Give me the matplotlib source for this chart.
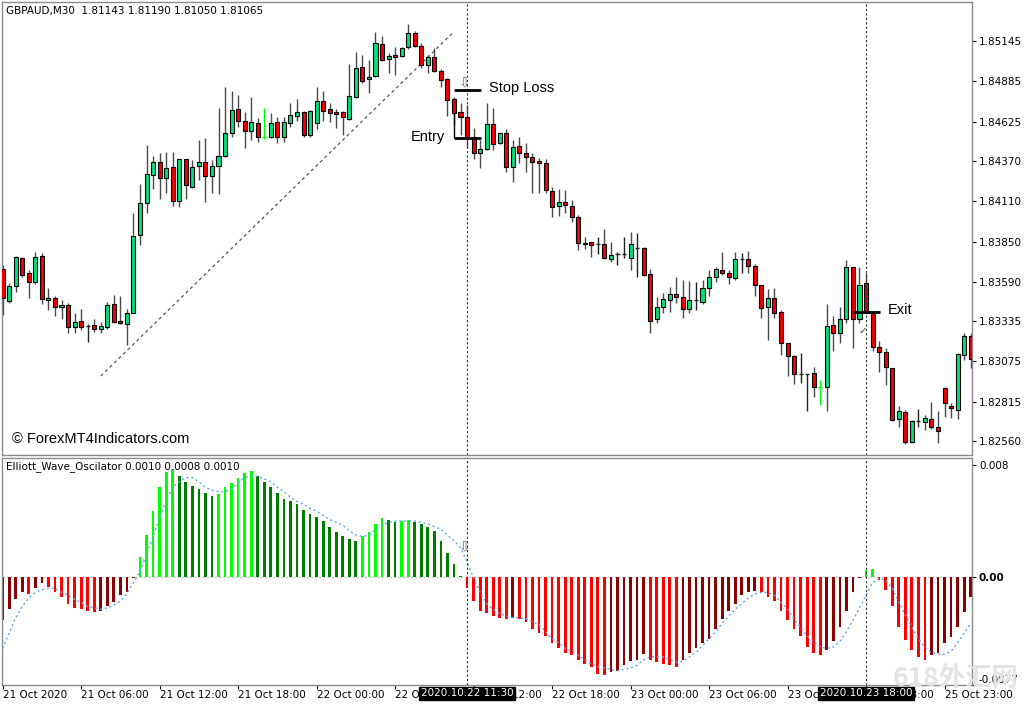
import matplotlib
matplotlib.use("Agg")
import matplotlib.pyplot as plt

# GBPAUD M30 candles, 21 Oct 2020 00:00 .. 25 Oct 2020
opens = [1.83672, 1.83466, 1.83562, 1.83743, 1.83646, 1.83588, 1.83756, 1.83472, 1.83485, 1.83427,
         1.83440, 1.83298, 1.83336, 1.83304, 1.83311, 1.83285, 1.83298, 1.83446, 1.83336, 1.83317,
         1.83388, 1.83892, 1.84099, 1.84280, 1.84363, 1.84260, 1.84331, 1.84112, 1.84383, 1.84202,
         1.84338, 1.84363, 1.84273, 1.84338, 1.84402, 1.84551, 1.84706, 1.84628, 1.84564, 1.84615,
         1.84525, 1.84525, 1.84622, 1.84525, 1.84615, 1.84661, 1.84686, 1.84538, 1.84615, 1.84758,
         1.84706, 1.84686, 1.84686, 1.84641, 1.84783, 1.84977, 1.84900, 1.84919, 1.85126, 1.85029,
         1.85055, 1.85048, 1.85106, 1.85197, 1.85113, 1.84990, 1.85042, 1.84951, 1.84900, 1.84770,
         1.84686, 1.84654, 1.84525, 1.84422, 1.84447, 1.84609, 1.84486, 1.84551, 1.84331, 1.84467,
         1.84422, 1.84396, 1.84370, 1.84357, 1.84176, 1.84079, 1.84105, 1.84079, 1.84008, 1.83834,
         1.83847, 1.83834, 1.83834, 1.83737, 1.83769, 1.83769, 1.83743, 1.83808, 1.83808, 1.83640,
         1.83349, 1.83427, 1.83472, 1.83511, 1.83491, 1.83414, 1.83472, 1.83459, 1.83550, 1.83621,
         1.83666, 1.83646, 1.83614, 1.83737, 1.83737, 1.83692, 1.83569, 1.83427, 1.83485, 1.83394,
         1.83194, 1.83112, 1.82994, 1.82994, 1.83000, 1.82910, 1.82910, 1.83311, 1.83259, 1.83349,
         1.83685, 1.83349, 1.83582, 1.83388, 1.83168, 1.83136, 1.83033, 1.82703, 1.82748, 1.82555,
         1.82690, 1.82684, 1.82703, 1.82652, 1.82904, 1.82787, 1.82761, 1.83117, 1.83239]
highs = [1.83698, 1.83582, 1.83755, 1.83750, 1.83666, 1.83782, 1.83776, 1.83550, 1.83498, 1.83472,
         1.83453, 1.83388, 1.83414, 1.83317, 1.83349, 1.83330, 1.83459, 1.83504, 1.83498, 1.83414,
         1.84034, 1.84221, 1.84473, 1.84402, 1.84422, 1.84428, 1.84428, 1.84386, 1.84386, 1.84376,
         1.84506, 1.84519, 1.84376, 1.84712, 1.84848, 1.84822, 1.84796, 1.84686, 1.84783, 1.84648,
         1.84712, 1.84680, 1.84654, 1.84654, 1.84745, 1.84770, 1.84690, 1.84699, 1.84848, 1.84822,
         1.84745, 1.84706, 1.84690, 1.84997, 1.85074, 1.85055, 1.85022, 1.85203, 1.85177, 1.85068,
         1.85106, 1.85106, 1.85255, 1.85210, 1.85132, 1.85055, 1.85100, 1.84964, 1.84903, 1.84783,
         1.84745, 1.84732, 1.84583, 1.84506, 1.84745, 1.84712, 1.84557, 1.84577, 1.84506, 1.84525,
         1.84486, 1.84422, 1.84389, 1.84383, 1.84202, 1.84189, 1.84183, 1.84118, 1.84021, 1.83879,
         1.83850, 1.83879, 1.83931, 1.83847, 1.83782, 1.83879, 1.83911, 1.83905, 1.83814, 1.83672,
         1.83491, 1.83517, 1.83556, 1.83621, 1.83601, 1.83595, 1.83588, 1.83601, 1.83666, 1.83685,
         1.83782, 1.83666, 1.83782, 1.83776, 1.83789, 1.83705, 1.83572, 1.83543, 1.83550, 1.83407,
         1.83197, 1.83115, 1.83130, 1.82997, 1.83039, 1.82955, 1.83446, 1.83369, 1.83427, 1.83730,
         1.83688, 1.83685, 1.83646, 1.83391, 1.83207, 1.83162, 1.83036, 1.82787, 1.82761, 1.82697,
         1.82768, 1.82729, 1.82813, 1.82755, 1.82907, 1.82807, 1.83130, 1.83259, 1.83259]
lows = [1.83375, 1.83453, 1.83524, 1.83621, 1.83485, 1.83575, 1.83446, 1.83407, 1.83369, 1.83349,
        1.83259, 1.83259, 1.83278, 1.83201, 1.83265, 1.83259, 1.83285, 1.83323, 1.83317, 1.83181,
        1.83385, 1.83827, 1.84034, 1.84189, 1.84124, 1.84163, 1.84079, 1.84073, 1.84124, 1.84196,
        1.84247, 1.84105, 1.84163, 1.84157, 1.84396, 1.84525, 1.84590, 1.84454, 1.84506, 1.84493,
        1.84512, 1.84519, 1.84486, 1.84493, 1.84590, 1.84628, 1.84525, 1.84525, 1.84577, 1.84628,
        1.84622, 1.84583, 1.84538, 1.84635, 1.84777, 1.84874, 1.84809, 1.84913, 1.85016, 1.84938,
        1.84926, 1.85042, 1.85093, 1.85106, 1.84971, 1.84938, 1.84945, 1.84848, 1.84661, 1.84603,
        1.84538, 1.84460, 1.84383, 1.84325, 1.84444, 1.84441, 1.84480, 1.84299, 1.84234, 1.84357,
        1.84299, 1.84163, 1.84163, 1.84163, 1.84008, 1.84015, 1.84034, 1.83976, 1.83795, 1.83801,
        1.83750, 1.83769, 1.83737, 1.83717, 1.83698, 1.83743, 1.83666, 1.83621, 1.83627, 1.83259,
        1.83323, 1.83388, 1.83394, 1.83453, 1.83356, 1.83388, 1.83407, 1.83446, 1.83498, 1.83588,
        1.83633, 1.83575, 1.83601, 1.83646, 1.83646, 1.83498, 1.83356, 1.83214, 1.83356, 1.83117,
        1.82981, 1.82929, 1.82936, 1.82755, 1.82845, 1.82794, 1.82755, 1.83143, 1.83194, 1.83323,
        1.83162, 1.83323, 1.83385, 1.83143, 1.83007, 1.82923, 1.82690, 1.82652, 1.82542, 1.82548,
        1.82652, 1.82632, 1.82639, 1.82548, 1.82716, 1.82710, 1.82703, 1.83084, 1.83033]
closes = [1.83485, 1.83562, 1.83750, 1.83633, 1.83588, 1.83750, 1.83478, 1.83485, 1.83427, 1.83440,
          1.83298, 1.83330, 1.83298, 1.83304, 1.83285, 1.83304, 1.83440, 1.83330, 1.83323, 1.83388,
          1.83885, 1.84099, 1.84286, 1.84363, 1.84260, 1.84325, 1.84112, 1.84383, 1.84215, 1.84331,
          1.84363, 1.84273, 1.84338, 1.84402, 1.84551, 1.84699, 1.84628, 1.84564, 1.84622, 1.84525,
          1.84525, 1.84615, 1.84525, 1.84622, 1.84667, 1.84686, 1.84538, 1.84693, 1.84758, 1.84693,
          1.84680, 1.84674, 1.84654, 1.84790, 1.84971, 1.84887, 1.84913, 1.85132, 1.85022, 1.85048,
          1.85042, 1.85100, 1.85197, 1.85113, 1.84990, 1.85042, 1.84951, 1.84893, 1.84764, 1.84680,
          1.84654, 1.84525, 1.84422, 1.84447, 1.84609, 1.84480, 1.84551, 1.84331, 1.84460, 1.84422,
          1.84396, 1.84363, 1.84357, 1.84183, 1.84073, 1.84105, 1.84086, 1.84008, 1.83840, 1.83840,
          1.83827, 1.83834, 1.83743, 1.83763, 1.83769, 1.83769, 1.83834, 1.83808, 1.83633, 1.83336,
          1.83427, 1.83478, 1.83511, 1.83491, 1.83414, 1.83472, 1.83472, 1.83550, 1.83621, 1.83672,
          1.83646, 1.83621, 1.83737, 1.83737, 1.83692, 1.83569, 1.83420, 1.83485, 1.83388, 1.83194,
          1.83112, 1.82994, 1.82994, 1.82994, 1.82910, 1.82910, 1.83304, 1.83259, 1.83349, 1.83685,
          1.83349, 1.83569, 1.83388, 1.83168, 1.83136, 1.83039, 1.82697, 1.82755, 1.82555, 1.82690,
          1.82690, 1.82710, 1.82652, 1.82626, 1.82807, 1.82774, 1.83123, 1.83239, 1.83091]
lime_dojis = [40, 125]

# Elliott wave oscillator histogram and its signal line
ewo = [-0.0031, -0.0023, -0.0016, -0.0011, -0.0012, -0.0008, -0.0004, -0.0007, -0.0011, -0.0014,
       -0.0019, -0.0022, -0.0023, -0.0024, -0.0025, -0.0024, -0.0021, -0.0018, -0.0013, -0.0011,
       -0.0001, 0.0014, 0.0030, 0.0047, 0.0064, 0.0075, 0.0077, 0.0072, 0.0068, 0.0065,
       0.0063, 0.0060, 0.0058, 0.0059, 0.0064, 0.0067, 0.0071, 0.0074, 0.0076, 0.0072,
       0.0068, 0.0064, 0.0060, 0.0056, 0.0054, 0.0052, 0.0048, 0.0045, 0.0043, 0.0040,
       0.0036, 0.0032, 0.0029, 0.0027, 0.0026, 0.0029, 0.0032, 0.0038, 0.0042, 0.0041,
       0.0039, 0.0040, 0.0041, 0.0039, 0.0038, 0.0036, 0.0033, 0.0026, 0.0017, 0.0009,
       0.0001, -0.0008, -0.0017, -0.0024, -0.0026, -0.0028, -0.0029, -0.0030, -0.0029, -0.0030,
       -0.0032, -0.0037, -0.0040, -0.0042, -0.0047, -0.0051, -0.0054, -0.0056, -0.0059, -0.0062,
       -0.0064, -0.0069, -0.0070, -0.0068, -0.0067, -0.0063, -0.0060, -0.0059, -0.0055, -0.0059,
       -0.0061, -0.0062, -0.0063, -0.0064, -0.0059, -0.0054, -0.0051, -0.0047, -0.0044, -0.0037,
       -0.0030, -0.0024, -0.0019, -0.0013, -0.0011, -0.0010, -0.0011, -0.0014, -0.0017, -0.0024,
       -0.0031, -0.0037, -0.0042, -0.0050, -0.0054, -0.0056, -0.0052, -0.0046, -0.0036, -0.0024,
       -0.0011, -0.0001, 0.0005, 0.0006, -0.0002, -0.0009, -0.0021, -0.0036, -0.0045, -0.0052,
       -0.0057, -0.0059, -0.0056, -0.0054, -0.0047, -0.0043, -0.0036, -0.0025, -0.0014]
ewo_signal = [-0.0051, -0.0040, -0.0029, -0.0021, -0.0015, -0.0011, -0.0009, -0.0008, -0.0008, -0.0011,
              -0.0013, -0.0016, -0.0018, -0.0021, -0.0022, -0.0023, -0.0022, -0.0020, -0.0017, -0.0012,
              -0.0004, 0.0004, 0.0016, 0.0029, 0.0042, 0.0055, 0.0064, 0.0068, 0.0071, 0.0071,
              0.0068, 0.0064, 0.0062, 0.0061, 0.0061, 0.0063, 0.0067, 0.0071, 0.0072, 0.0072,
              0.0070, 0.0068, 0.0064, 0.0061, 0.0057, 0.0054, 0.0052, 0.0049, 0.0047, 0.0044,
              0.0041, 0.0039, 0.0037, 0.0033, 0.0030, 0.0029, 0.0030, 0.0034, 0.0037, 0.0039,
              0.0040, 0.0040, 0.0040, 0.0040, 0.0039, 0.0038, 0.0036, 0.0034, 0.0030, 0.0026,
              0.0021, 0.0011, -0.0001, -0.0011, -0.0019, -0.0023, -0.0026, -0.0028, -0.0029, -0.0029,
              -0.0030, -0.0032, -0.0034, -0.0039, -0.0044, -0.0047, -0.0051, -0.0053, -0.0056, -0.0059,
              -0.0062, -0.0064, -0.0065, -0.0066, -0.0067, -0.0066, -0.0065, -0.0063, -0.0059, -0.0057,
              -0.0057, -0.0057, -0.0059, -0.0061, -0.0060, -0.0057, -0.0054, -0.0049, -0.0044, -0.0039,
              -0.0033, -0.0028, -0.0023, -0.0019, -0.0015, -0.0012, -0.0011, -0.0011, -0.0013, -0.0018,
              -0.0023, -0.0030, -0.0036, -0.0042, -0.0046, -0.0050, -0.0051, -0.0050, -0.0046, -0.0039,
              -0.0031, -0.0022, -0.0013, -0.0004, -0.0001, -0.0002, -0.0008, -0.0018, -0.0027, -0.0036,
              -0.0044, -0.0050, -0.0054, -0.0055, -0.0055, -0.0053, -0.0047, -0.0040, -0.0033]

price_ticks = [1.85145, 1.84885, 1.84625, 1.84370, 1.84110, 1.83850,
               1.83590, 1.83335, 1.83075, 1.82815, 1.82560]
time_ticks = [0, 12, 24, 36, 48, 60, 72, 84, 96, 108, 120, 132, 144]
time_labels = ["21 Oct 2020", "21 Oct 06:00", "21 Oct 12:00", "21 Oct 18:00",
               "22 Oct 00:00", "22 Oct 06:00", "22 Oct 12:00", "22 Oct 18:00",
               "23 Oct 00:00", "23 Oct 06:00", "23 Oct 12:00", "23 Oct 18:00",
               "25 Oct 23:00"]

trend_x = [15, 68.8]
trend_y = [1.82981, 1.85197]
stop_loss = 1.84829
entry_price = 1.84519
exit_price = 1.83394
entry_bar = 71
exit_bar = 132

GREEN = "#00e07a"
RED = "#f00000"

plt.rcParams["font.family"] = ["DejaVu Sans"]
fig = plt.figure(figsize=(10.24, 7.04), dpi=100)
ax = fig.add_axes([2 / 1024, 1 - 455 / 704, 970 / 1024, 453 / 704])
ax2 = fig.add_axes([2 / 1024, 1 - 685 / 704, 970 / 1024, 227 / 704])

n = len(opens)
xs = list(range(n))

# candles
for i in xs:
    o, h, l, c = opens[i], highs[i], lows[i], closes[i]
    if abs(c - o) < 0.00002:
        col = "#00ff00" if i in lime_dojis else "#222222"
        ax.vlines(i, l, h, color=col, lw=1, zorder=2)
        ax.hlines(o, i - 0.32, i + 0.32, color=col, lw=1, zorder=3)
        continue
    ax.vlines(i, l, h, color="#4a4a4a", lw=1, zorder=2)
    ax.bar(i, abs(c - o), bottom=min(o, c), width=0.62,
           color=GREEN if c > o else RED, edgecolor="black", lw=0.8, zorder=3)

ax.plot(trend_x, trend_y, color="#555555", lw=0.9, ls=(0, (2.5, 2.5)))

# trade annotations
ax.hlines(stop_loss, 69, 73.2, color="black", lw=2, zorder=5)
ax.hlines(entry_price, 69, 73.2, color="black", lw=2, zorder=5)
ax.vlines(69, entry_price, 1.84680, color="black", lw=1, zorder=5)
ax.hlines(exit_price, 130, 134.2, color="black", lw=2, zorder=5)
ax.text(70.6, 1.84880, "\u21e9", color="#6e6e6e", fontsize=10, ha="center", va="center")
ax.text(74.3, 1.84842, "Stop Loss", family="Liberation Sans", fontsize=10.5, va="center")
ax.text(67.6, 1.84525, "Entry", family="Liberation Sans", fontsize=10.5, va="center", ha="right")
ax.text(135.3, 1.83407, "Exit", family="Liberation Sans", fontsize=10.5, va="center")
ax.text(131.5, 1.83270, "\u2713", color="#444444", fontsize=7.5, ha="center", va="center")

ax.set_xlim(-0.1, 148.2)
ax.set_ylim(1.82471, 1.85397)
ax.yaxis.tick_right()
ax.set_yticks(price_ticks)
ax.set_yticklabels(["%.5f" % p for p in price_ticks])
ax.set_xticks([])

# oscillator
cols = []
for i, v in enumerate(ewo):
    rising = i == 0 or v >= ewo[i - 1]
    if v >= 0:
        cols.append("#00ff00" if rising else "#007d00")
    else:
        cols.append("#8b0000" if rising else "#ff0000")
ax2.bar(xs, ewo, width=0.42, color=cols, zorder=2)
ax2.axhline(0, color="#c8c8c8", lw=1, ls=(0, (1.5, 1.5)), zorder=1)
ax2.plot(xs, ewo_signal, color="#5fa8f0", lw=1, ls=(0, (1.5, 2)), zorder=3)
ax2.text(70.6, 0.0022, "\u21e9", color="#6e6e6e", fontsize=10, ha="center", va="center")
ax2.set_xlim(-0.1, 148.2)
ax2.set_ylim(-0.00771, 0.0085)
ax2.yaxis.tick_right()
ax2.set_yticks([0.008, 0.0, -0.00771])
ax2.set_yticklabels(["0.008", "0.00", "-0.0077"])
ax2.get_yticklabels()[1].set_fontweight("bold")
ax2.get_yticklabels()[2].set_va("bottom")
ax2.set_xticks(time_ticks)
ax2.set_xticklabels(time_labels)
for lbl in ax2.get_xticklabels():
    lbl.set_ha("left")

for a in (ax, ax2):
    a.axvline(entry_bar, color="#333333", lw=0.8, ls=(0, (2, 2)), zorder=4)
    a.axvline(exit_bar, color="#333333", lw=0.8, ls=(0, (2, 2)), zorder=4)
    a.tick_params(length=3, width=0.8, labelsize=7.5, pad=2, colors="black")
    for s in a.spines.values():
        s.set_color("#8a8a8a")
        s.set_linewidth(1)
ax2.tick_params(axis="x", pad=0.5)

for bar_i, txt in [(entry_bar, "2020.10.22 11:30"), (exit_bar, "2020.10.23 18:00")]:
    ax2.annotate(txt, xy=(bar_i, 0), xycoords=("data", "axes fraction"),
                 xytext=(0, -6), textcoords="offset points", ha="center", va="center",
                 color="white", fontsize=7.5, zorder=10, annotation_clip=False,
                 bbox=dict(boxstyle="square,pad=0.15", fc="black", ec="black"))

fig.text(6 / 1024, 1 - 11 / 704, "GBPAUD,M30  1.81143 1.81190 1.81050 1.81065",
         fontsize=7.5, va="center")
fig.text(6 / 1024, 1 - 467 / 704, "Elliott_Wave_Oscilator 0.0010 0.0008 0.0010",
         fontsize=7.5, va="center")
fig.text(12 / 1024, 1 - 439 / 704, "\u00a9 ForexMT4Indicators.com",
         family="Liberation Sans", fontsize=10.5, va="center")
fig.text(956 / 1024, 1 - 678 / 704, "618外汇网", family=["Noto Sans CJK SC", "DejaVu Sans"],
         fontsize=19, fontweight="bold", color="#e4e4e4", ha="center", va="center", zorder=0)

fig.savefig("out.png", dpi=100)
